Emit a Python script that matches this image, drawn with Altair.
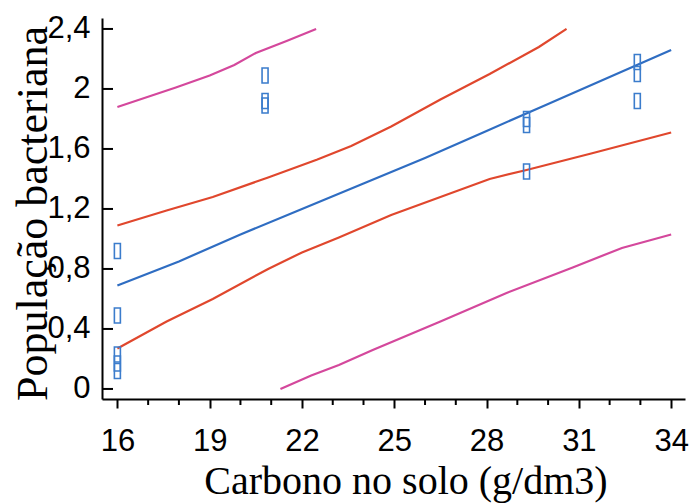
import altair as alt
import pandas as pd

# Fitted regression line
fit_x = [16, 18, 20, 22, 24, 26, 28, 30, 32, 34]
fit_y = [0.69, 0.85, 1.03, 1.20, 1.37, 1.54, 1.72, 1.90, 2.08, 2.26]

# Confidence band (red)
ci_up_x = [16, 17.6, 19.1, 20.9, 22.5, 23.6, 24.9, 26.5, 28.1, 29.7, 30.6]
ci_up_y = [1.09, 1.19, 1.28, 1.41, 1.53, 1.62, 1.75, 1.93, 2.10, 2.28, 2.40]
ci_lo_x = [16, 17.6, 19.1, 20.9, 22.0, 23.2, 24.9, 26.5, 28.1, 29.3, 31.4, 34]
ci_lo_y = [0.27, 0.45, 0.60, 0.80, 0.91, 1.01, 1.16, 1.28, 1.40, 1.46, 1.57, 1.71]

# Prediction band (magenta)
pi_up_x = [16, 17.9, 19.0, 19.8, 20.5, 21.5, 22.46]
pi_up_y = [1.88, 2.01, 2.09, 2.16, 2.24, 2.32, 2.40]
pi_lo_x = [21.3, 22.3, 23.2, 24.3, 26.5, 28.65, 30.8, 32.4, 34]
pi_lo_y = [0.0, 0.09, 0.16, 0.26, 0.45, 0.64, 0.81, 0.94, 1.03]

# Observations
obs_x = [16, 16, 16, 16, 16, 20.8, 20.8, 20.8, 29.3, 29.3, 29.3, 32.9, 32.9, 32.9]
obs_y = [0.92, 0.49, 0.23, 0.17, 0.12, 2.09, 1.92, 1.89, 1.80, 1.76, 1.45, 2.18, 2.10, 1.92]

# Axis ticks
y_ticks = [0, 0.4, 0.8, 1.2, 1.6, 2.0, 2.4]
x_major = [16, 19, 22, 25, 28, 31, 34]
x_minor = [17, 18, 20, 21, 23, 24, 26, 27, 29, 30, 32, 33]

rows = []
for name, xs, ys in [("fit", fit_x, fit_y), ("ci_up", ci_up_x, ci_up_y),
                     ("ci_lo", ci_lo_x, ci_lo_y), ("pi_up", pi_up_x, pi_up_y),
                     ("pi_lo", pi_lo_x, pi_lo_y)]:
    for a, b in zip(xs, ys):
        rows.append({"x": a, "y": b, "s": name})
lines_df = pd.DataFrame(rows)
obs_df = pd.DataFrame({"x": obs_x, "y": obs_y})
yt_df = pd.DataFrame({"y": y_ticks})
xm_df = pd.DataFrame({"x": x_minor})

W, H = 583, 381

x_enc = alt.X("x:Q", title="Carbono no solo (g/dm3)",
              scale=alt.Scale(domain=[15.5, 34.45], nice=False, zero=False),
              axis=alt.Axis(values=x_major, grid=False, tickSize=9, tickWidth=2,
                            tickColor="black", domainColor="black", domainWidth=2,
                            labelFont="Liberation Sans", labelFontSize=31,
                            labelColor="black", labelBaseline="alphabetic",
                            labelPadding=42, labelFlush=False, labelOverlap=False,
                            titleFont="Liberation Serif", titleFontSize=40,
                            titleFontWeight="normal", titleColor="black",
                            titleBaseline="alphabetic", titleY=94, titleX=W / 2 + 12,
                            titleAlign="center"))
y_enc = alt.Y("y:Q", title="População bacteriana",
              scale=alt.Scale(domain=[-0.067, 2.473], nice=False, zero=False),
              axis=alt.Axis(values=y_ticks, grid=False, ticks=False, tickSize=0,
                            domainColor="black", domainWidth=2,
                            labelExpr="replace(format(datum.value, '.1~f'), '.', ',')",
                            labelFont="Liberation Sans", labelFontSize=31,
                            labelColor="black", labelPadding=12,
                            labelBaseline="middle", labelFlush=False,
                            labelOverlap=False,
                            titleFont="Liberation Serif", titleFontSize=44,
                            titleFontWeight="normal", titleColor="black",
                            titleAngle=270, titleBaseline="alphabetic",
                            titleX=-56, titleY=195, titleAlign="center"))

lines = alt.Chart(lines_df).mark_line(strokeWidth=2.2).encode(
    x=x_enc, y=y_enc,
    color=alt.Color("s:N", legend=None,
                    scale=alt.Scale(domain=["fit", "ci_up", "ci_lo", "pi_up", "pi_lo"],
                                    range=["#2f6dc2", "#e0472d", "#e0472d",
                                           "#d4489c", "#d4489c"])),
    detail="s:N",
)

rect_shape = "M-0.4,-1 L0.4,-1 L0.4,1 L-0.4,1 Z"
points = alt.Chart(obs_df).mark_point(
    shape=rect_shape, filled=False, size=225, strokeWidth=1.6, color="#3b7ccc", opacity=1
).encode(x=x_enc, y=y_enc)

yticks = alt.Chart(yt_df).mark_rule(color="black", strokeWidth=2).encode(
    y=y_enc, x=alt.value(0), x2=alt.value(11))

xminor = alt.Chart(xm_df).mark_rule(color="black", strokeWidth=2).encode(
    x=x_enc, y=alt.value(H), y2=alt.value(H + 6))

chart = alt.layer(lines, points, yticks, xminor).properties(
    width=W, height=H,
    autosize=alt.AutoSizeParams(type="none"),
    padding={"left": 102, "top": 18, "right": 6, "bottom": 105},
    background="white",
).configure_view(stroke=None)

chart.save("out.html", embed_options={"renderer": "svg", "actions": False})
